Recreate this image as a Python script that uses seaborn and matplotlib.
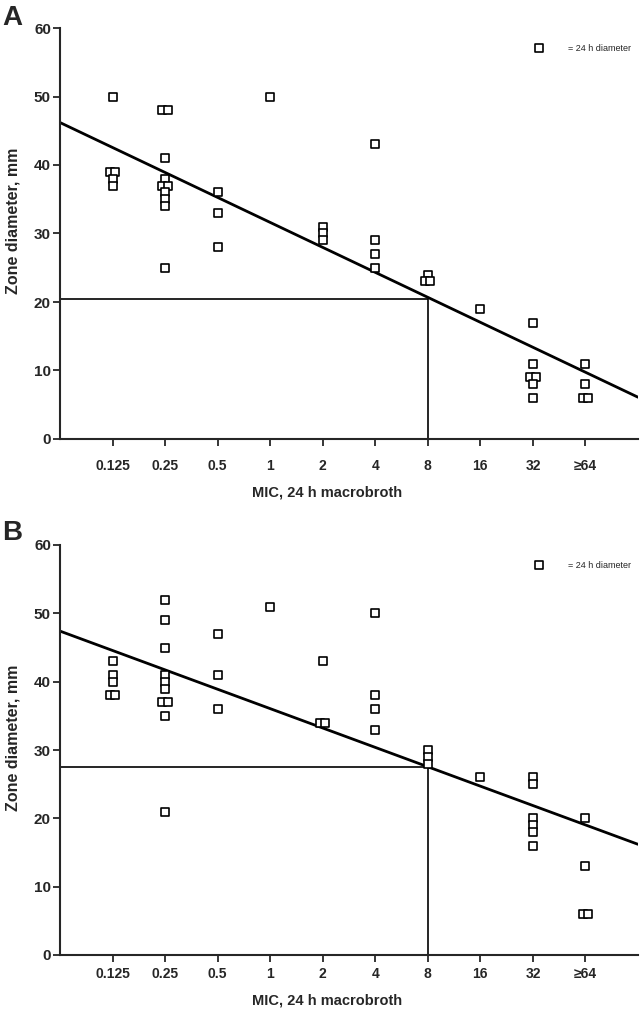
import matplotlib
matplotlib.use("Agg")
import matplotlib.pyplot as plt
import pandas as pd
import seaborn as sns

# MIC categories along the x axis
mic_labels = ["0.125", "0.25", "0.5", "1", "2", "4", "8", "16", "32", "≥64"]

# panel A readings
a_mic = (["0.125"] * 5 + ["0.25"] * 10 + ["0.5"] * 3 + ["1"] + ["2"] * 3
         + ["4"] * 4 + ["8"] * 3 + ["16"] + ["32"] * 6 + ["≥64"] * 4)
a_zone = [50, 39, 39, 38, 37,
          48, 48, 41, 38, 37, 37, 36, 35, 34, 25,
          36, 33, 28,
          50,
          31, 30, 29,
          43, 29, 27, 25,
          24, 23, 23,
          19,
          17, 11, 9, 9, 8, 6,
          11, 8, 6, 6]
a_fit = [46.2, 6.1]      # regression line at left / right edge of axis
a_breakpoint = 20.4

# panel B readings
b_mic = (["0.125"] * 5 + ["0.25"] * 10 + ["0.5"] * 3 + ["1"] + ["2"] * 3
         + ["4"] * 4 + ["8"] * 3 + ["16"] + ["32"] * 6 + ["≥64"] * 4)
b_zone = [43, 41, 40, 38, 38,
          52, 49, 45, 41, 40, 39, 37, 37, 35, 21,
          47, 41, 36,
          51,
          43, 34, 34,
          50, 38, 36, 33,
          30, 29, 28,
          26,
          26, 25, 20, 19, 18, 16,
          20, 13, 6, 6]
b_fit = [47.4, 16.2]
b_breakpoint = 27.5

sns.set_style("ticks")
plt.rcParams["font.family"] = ["Liberation Sans", "DejaVu Sans"]

fig = plt.figure(figsize=(6.4, 10.1), dpi=100)
ax_a = fig.add_axes([60 / 640, 1 - 439 / 1010, 578 / 640, 411 / 1010])
ax_b = fig.add_axes([60 / 640, 1 - 955 / 1010, 578 / 640, 410 / 1010])


def draw_panel(ax, mic, zone, fit, breakpoint, xlabel_y, xpad):
    df = pd.DataFrame({"mic": mic, "zone": zone})
    df["pos"] = df["mic"].map({m: i + 1 for i, m in enumerate(mic_labels)})
    # identical readings sit side by side
    grp = df.groupby(["pos", "zone"])
    k = grp.cumcount()
    n = grp["zone"].transform("size")
    df["pos"] = df["pos"] + (k - (n - 1) / 2) * 0.1

    sns.scatterplot(data=df, x="pos", y="zone", marker="s", s=28,
                    facecolor="white", edgecolor="black", linewidth=1.2,
                    label="= 24 h diameter", zorder=3, ax=ax)
    sns.lineplot(x=[0, 11], y=fit, color="black", linewidth=2, ax=ax)

    bp = mic_labels.index("8") + 1
    ax.hlines(breakpoint, 0, bp, color="black", linewidth=1.2)
    ax.vlines(bp, 0, breakpoint, color="black", linewidth=1.2)

    ax.set_xlim(0, 11)
    ax.set_ylim(0, 60)
    ax.set_xticks(range(1, 11))
    ax.set_xticklabels(mic_labels)
    ax.set_yticks(range(0, 61, 10))
    ax.tick_params(direction="out", length=5, width=1.3)
    ax.tick_params(axis="x", labelsize=10, pad=xpad)
    ax.tick_params(axis="y", labelsize=11, pad=1.5)
    for lab in ax.get_xticklabels() + ax.get_yticklabels():
        lab.set_fontweight("bold")
    for side in ["left", "bottom"]:
        ax.spines[side].set_linewidth(1.5)
    sns.despine(ax=ax)

    ax.set_xlabel("MIC, 24 h macrobroth", fontsize=10.5, fontweight="bold")
    ax.xaxis.set_label_coords(0.462, xlabel_y)
    ax.set_ylabel("Zone diameter, mm", fontsize=11.5, fontweight="bold")
    ax.yaxis.set_label_coords(-0.069, 0.53)

    ax.legend(loc="upper right", bbox_to_anchor=(0.993, 0.968), frameon=False,
              fontsize=6.5, handletextpad=2.2, borderaxespad=0, borderpad=0.3)


draw_panel(ax_a, a_mic, a_zone, a_fit, a_breakpoint, -0.114, 9.5)
draw_panel(ax_b, b_mic, b_zone, b_fit, b_breakpoint, -0.095, 3.5)

fig.text(0.004, 0.995, "A", fontsize=20, fontweight="bold", va="top", ha="left")
fig.text(0.004, 0.485, "B", fontsize=20, fontweight="bold", va="top", ha="left")

fig.savefig("out.png", dpi=100)
